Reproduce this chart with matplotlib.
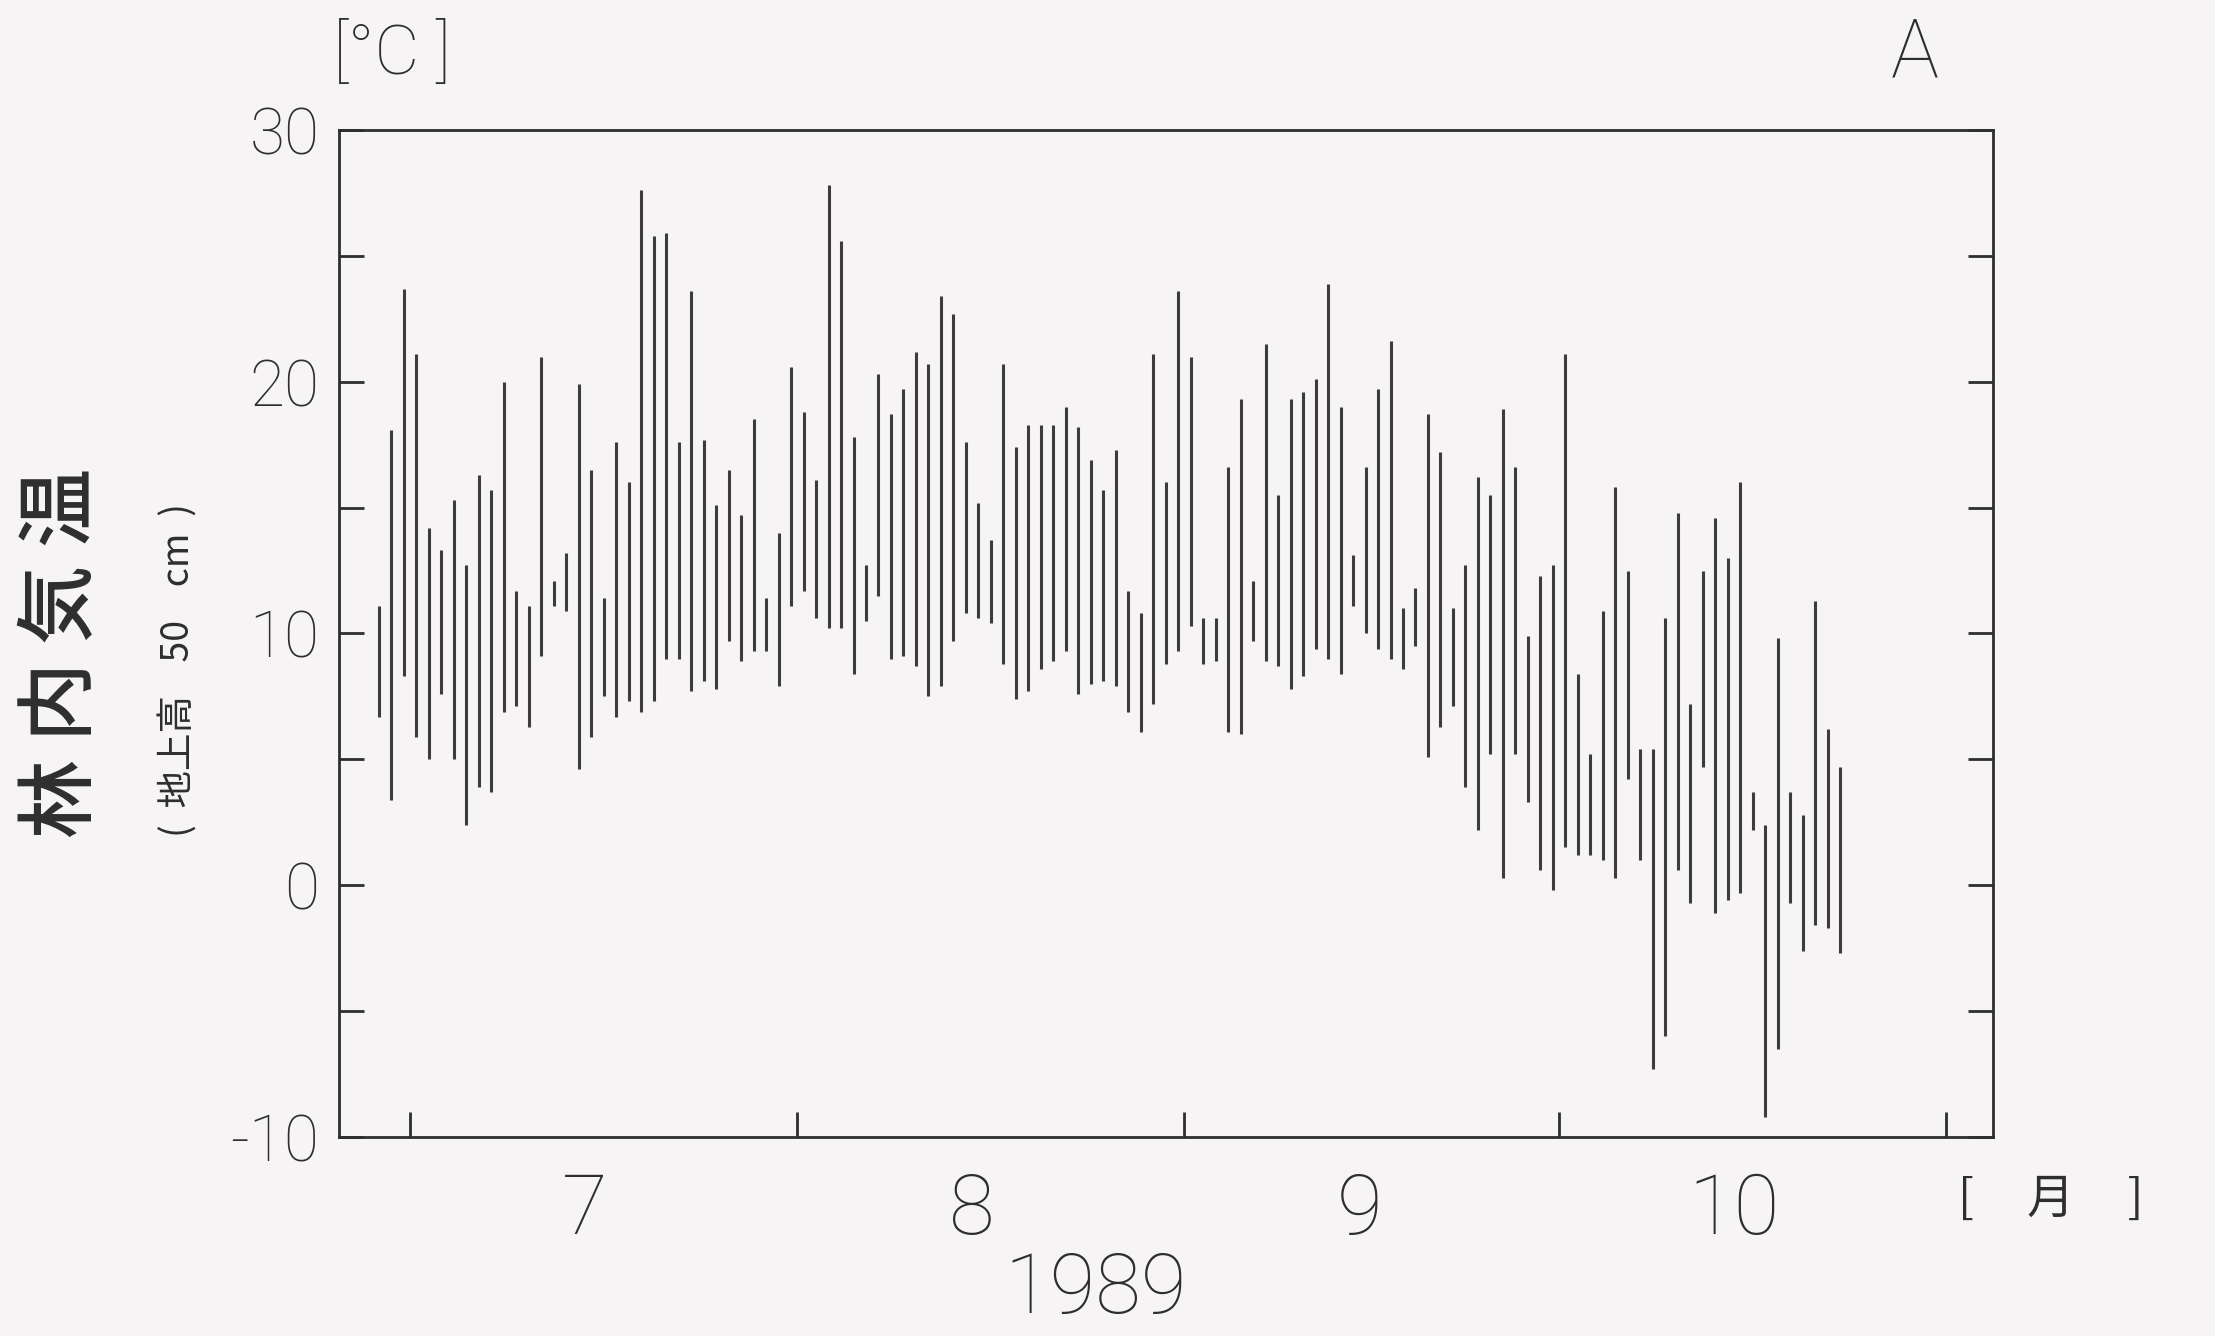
import datetime as dt
import matplotlib
matplotlib.use("Agg")
import matplotlib.pyplot as plt
import matplotlib.dates as mdates
from matplotlib.ticker import FixedLocator, NullFormatter

# ---- data: daily max / min air temperature in forest (50 cm above ground), 1989 ----
start_date = dt.date(1989, 6, 28)
tmax = [11.1, 18.1, 23.7, 21.1, 14.2, 13.3, 15.3, 12.7, 16.3, 15.7, 20.0, 11.7, 11.1, 21.0, 12.1, 13.2, 19.9, 16.5,
        11.4, 17.6, 16.0, 27.6, 25.8, 25.9, 17.6, 23.6, 17.7, 15.1, 16.5, 14.7, 18.5, 11.4, 14.0, 20.6, 18.8, 16.1, 27.8, 25.6,
        17.8, 12.7, 20.3, 18.7, 19.7, 21.2, 20.7, 23.4, 22.7, 17.6, 15.2, 13.7, 20.7, 17.4, 18.3, 18.3, 18.3, 19.0, 18.2, 16.9,
        15.7, 17.3, 11.7, 10.8, 21.1, 16.0, 23.6, 21.0, 10.6, 10.6, 16.6, 19.3, 12.1, 21.5, 15.5, 19.3, 19.6, 20.1, 23.9, 19.0,
        13.1, 16.6, 19.7, 21.6, 11.0, 11.8, 18.7, 17.2, 11.0, 12.7, 16.2, 15.5, 18.9, 16.6, 9.9, 12.3, 12.7, 21.1, 8.4, 5.2,
        10.9, 15.8, 12.5, 5.4, 5.4, 10.6, 14.8, 7.2, 12.5, 14.6, 13.0, 16.0, 3.7, 2.4, 9.8, 3.7, 2.8, 11.3, 6.2, 4.7]
tmin = [6.7, 3.4, 8.3, 5.9, 5.0, 7.6, 5.0, 2.4, 3.9, 3.7, 6.9, 7.1, 6.3, 9.1, 11.1, 10.9, 4.6, 5.9,
        7.5, 6.7, 7.3, 6.9, 7.3, 9.0, 9.0, 7.7, 8.1, 7.8, 9.7, 8.9, 9.3, 9.3, 7.9, 11.1, 11.7, 10.6, 10.2, 10.2,
        8.4, 10.5, 11.5, 9.0, 9.1, 8.7, 7.5, 7.9, 9.7, 10.8, 10.6, 10.4, 8.8, 7.4, 7.7, 8.6, 8.9, 9.3, 7.6, 8.0,
        8.1, 7.9, 6.9, 6.1, 7.2, 8.8, 9.3, 10.3, 8.8, 8.9, 6.1, 6.0, 9.7, 8.9, 8.7, 7.8, 8.3, 9.4, 9.0, 8.4,
        11.1, 10.0, 9.4, 9.0, 8.6, 9.5, 5.1, 6.3, 7.1, 3.9, 2.2, 5.2, 0.3, 5.2, 3.3, 0.6, -0.2, 1.5, 1.2, 1.2,
        1.0, 0.3, 4.2, 1.0, -7.3, -6.0, 0.6, -0.7, 4.7, -1.1, -0.6, -0.3, 2.2, -9.2, -6.5, -0.7, -2.6, -1.6, -1.7, -2.7]
month_labels = ["7", "8", "9", "10"]
month_starts = [dt.date(1989, m, 1) for m in (7, 8, 9, 10, 11)]
month_mids = [dt.date(1989, m, 15) for m in (7, 8, 9, 10)]
yticks_major = [-10, 0, 10, 20, 30]
yticks_minor = [-5, 5, 15, 25]

# ---- style ----
INK = "#2e2e2e"
BAR = "#3c3c3c"
BG = "#f6f4f5"
NUM_FONT = ["Roboto", "DejaVu Sans"]
CJK_FONT = ["Noto Sans CJK JP", "DejaVu Sans"]

fig = plt.figure(figsize=(22.15, 13.36), dpi=100, facecolor=BG)
ax = fig.add_axes([0.1530, 0.1490, 0.8998 - 0.1530, 0.9027 - 0.1490])
ax.set_facecolor(BG)

x = [mdates.date2num(start_date + dt.timedelta(days=i)) + 0.5 for i in range(len(tmax))]
ax.vlines(x, tmin, tmax, colors=BAR, linewidth=2.2)

ax.set_ylim(-10, 30)
ax.set_xlim(mdates.date2num(dt.datetime(1989, 6, 25, 7)), mdates.date2num(dt.datetime(1989, 11, 4, 18)))

for s in ax.spines.values():
    s.set_color(INK)
    s.set_linewidth(2.0)

# y ticks
ax.set_yticks(yticks_major)
ax.set_yticklabels([str(v) for v in yticks_major])
ax.yaxis.set_minor_locator(FixedLocator(yticks_minor))
ax.tick_params(axis="y", which="both", direction="in", length=18, width=2.0, color=INK,
               left=True, right=True, labelleft=True, labelright=False, pad=14,
               labelsize=46, labelcolor=INK)

# x ticks: month boundaries (unlabelled) + month names at mid-month
ax.set_xticks([mdates.date2num(d) for d in month_starts])
ax.xaxis.set_major_formatter(NullFormatter())
ax.set_xticks([mdates.date2num(d) for d in month_mids], minor=True)
ax.set_xticklabels(month_labels, minor=True)
ax.tick_params(axis="x", which="major", direction="in", length=18, width=2.0, color=INK,
               top=False, bottom=True)
ax.tick_params(axis="x", which="minor", length=0, pad=25, labelsize=60, labelcolor=INK)

for lab in ax.get_yticklabels() + ax.get_xticklabels(minor=True):
    lab.set_family(NUM_FONT)
    lab.set_fontweight("light")

# texts
fig.text(392 / 2215, 1 - 55 / 1336, "[°C ]", ha="center", va="center", fontsize=50,
         color=INK, family=NUM_FONT, fontweight="light")
fig.text(1915 / 2215, 1 - 54 / 1336, "A", ha="center", va="center", fontsize=58,
         color=INK, family=NUM_FONT, fontweight="light")
fig.text(1096 / 2215, 1 - 1290 / 1336, "1989", ha="center", va="center", fontsize=60,
         color=INK, family=NUM_FONT, fontweight="light")
fig.text(2051 / 2215, 1 - 1200 / 1336, "[     月     ]", ha="center", va="center", fontsize=34,
         color=INK, family=CJK_FONT)
fig.text(63 / 2215, 1 - 653 / 1336, "林 内 気 温", ha="center", va="center", rotation=90,
         fontsize=57, color=INK, family=CJK_FONT, fontweight="medium")
fig.text(178 / 2215, 1 - 670 / 1336, "(  地上高    50    cm  )", ha="center", va="center", rotation=90,
         fontsize=27, color=INK, family=CJK_FONT)

fig.savefig("out.png", dpi=100, facecolor=BG)
